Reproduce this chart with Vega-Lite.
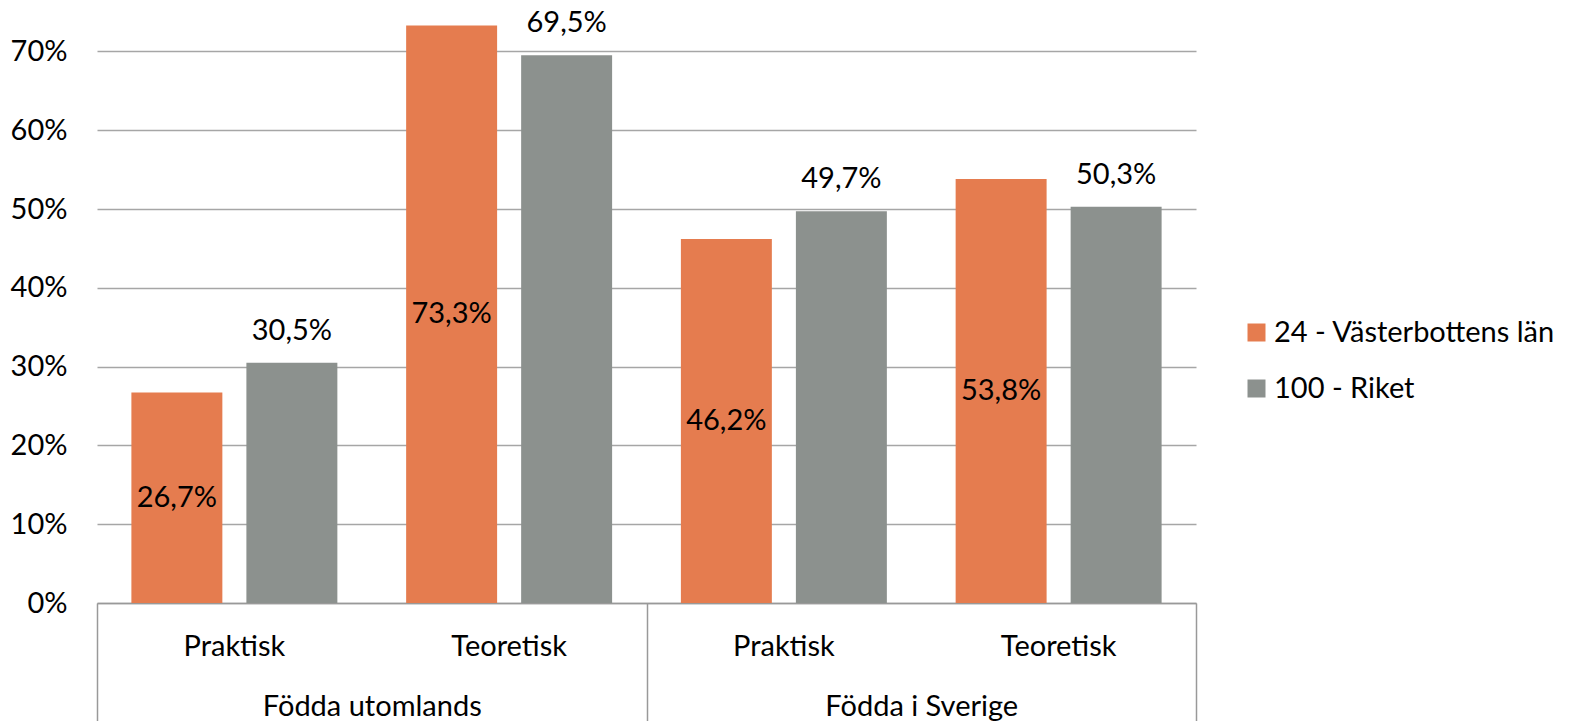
{
  "$schema": "https://vega.github.io/schema/vega-lite/v6.json",
  "width": 1099,
  "height": 591,
  "autosize": {"type": "none"},
  "padding": {"left": 97, "top": 12, "right": 375, "bottom": 118},
  "config": {
    "font": "Lato",
    "view": {"stroke": null},
    "locale": {"number": {"decimal": ",", "thousands": " ", "grouping": [3], "currency": ["", " kr"]}}
  },
  "data": {
    "values": [
      {"group": "Födda utomlands", "type": "Praktisk", "cat": "Födda utomlands|Praktisk", "series": "24 - Västerbottens län", "v": 0.267},
      {"group": "Födda utomlands", "type": "Praktisk", "cat": "Födda utomlands|Praktisk", "series": "100 - Riket", "v": 0.305},
      {"group": "Födda utomlands", "type": "Teoretisk", "cat": "Födda utomlands|Teoretisk", "series": "24 - Västerbottens län", "v": 0.733},
      {"group": "Födda utomlands", "type": "Teoretisk", "cat": "Födda utomlands|Teoretisk", "series": "100 - Riket", "v": 0.695},
      {"group": "Födda i Sverige", "type": "Praktisk", "cat": "Födda i Sverige|Praktisk", "series": "24 - Västerbottens län", "v": 0.462},
      {"group": "Födda i Sverige", "type": "Praktisk", "cat": "Födda i Sverige|Praktisk", "series": "100 - Riket", "v": 0.497},
      {"group": "Födda i Sverige", "type": "Teoretisk", "cat": "Födda i Sverige|Teoretisk", "series": "24 - Västerbottens län", "v": 0.538},
      {"group": "Födda i Sverige", "type": "Teoretisk", "cat": "Födda i Sverige|Teoretisk", "series": "100 - Riket", "v": 0.503}
    ]
  },
  "resolve": {"scale": {"x": "independent"}, "axis": {"x": "independent"}},
  "layer": [
    {
      "layer": [
        {
          "mark": {"type": "bar"},
          "encoding": {
            "x": {
              "field": "cat", "type": "nominal", "sort": null,
              "scale": {"paddingInner": 0, "paddingOuter": 0},
              "axis": {
                "orient": "bottom", "title": null, "ticks": false,
                "domain": true, "domainColor": "#999999", "domainWidth": 1.5,
                "labelExpr": "split(datum.value, '|')[1]",
                "labelFontSize": 29, "labelColor": "#000000", "labelPadding": 29, "labelAngle": 0, "labelLimit": 0
              }
            },
            "xOffset": {
              "field": "series", "type": "nominal",
              "sort": ["24 - Västerbottens län", "100 - Riket"],
              "scale": {"paddingInner": 0.209, "paddingOuter": 0.299}
            },
            "y": {
              "field": "v", "type": "quantitative",
              "scale": {"domain": [0, 0.75], "nice": false},
              "axis": {
                "title": null, "values": [0, 0.1, 0.2, 0.3, 0.4, 0.5, 0.6, 0.7],
                "format": ".0%", "domain": false, "ticks": false,
                "gridColor": "#A6A6A6", "gridWidth": 1.5,
                "labelFontSize": 29, "labelColor": "#000000", "labelPadding": 30
              }
            },
            "color": {
              "field": "series", "type": "nominal",
              "scale": {"domain": ["24 - Västerbottens län", "100 - Riket"], "range": ["#E57C4F", "#8C918E"]},
              "legend": {
                "title": null, "orient": "none", "legendX": 1145, "legendY": 306,
                "symbolType": "square", "symbolSize": 324, "symbolStrokeWidth": 0,
                "labelFontSize": 29, "labelColor": "#000000", "labelOffset": 3, "rowPadding": 26, "labelLimit": 0
              }
            }
          }
        },
        {
          "transform": [
            {"filter": "datum.series == '24 - Västerbottens län'"},
            {"calculate": "datum.v / 2", "as": "mid"}
          ],
          "mark": {"type": "text", "fontSize": 29, "color": "#000000", "baseline": "middle"},
          "encoding": {
            "x": {"field": "cat", "type": "nominal", "sort": null},
            "xOffset": {"field": "series", "type": "nominal", "sort": ["24 - Västerbottens län", "100 - Riket"]},
            "y": {"field": "mid", "type": "quantitative"},
            "text": {"field": "v", "type": "quantitative", "format": ".1%"}
          }
        },
        {
          "transform": [{"filter": "datum.series == '100 - Riket'"}],
          "mark": {"type": "text", "fontSize": 29, "color": "#000000", "baseline": "alphabetic", "dy": -23},
          "encoding": {
            "x": {"field": "cat", "type": "nominal", "sort": null},
            "xOffset": {"field": "series", "type": "nominal", "sort": ["24 - Västerbottens län", "100 - Riket"]},
            "y": {"field": "v", "type": "quantitative"},
            "text": {"field": "v", "type": "quantitative", "format": ".1%"}
          }
        }
      ]
    },
    {
      "mark": {"type": "point", "opacity": 0},
      "encoding": {
        "x": {
          "field": "group", "type": "nominal", "sort": null,
          "scale": {"paddingInner": 0, "paddingOuter": 0},
          "axis": {
            "orient": "bottom", "title": null, "tickBand": "extent",
            "tickSize": 118, "tickColor": "#999999", "tickWidth": 1.5,
            "domain": false, "grid": false,
            "labelFontSize": 29, "labelColor": "#000000", "labelPadding": -29, "labelAngle": 0, "labelLimit": 0
          }
        },
        "y": {"datum": 0, "type": "quantitative"}
      }
    }
  ]
}
